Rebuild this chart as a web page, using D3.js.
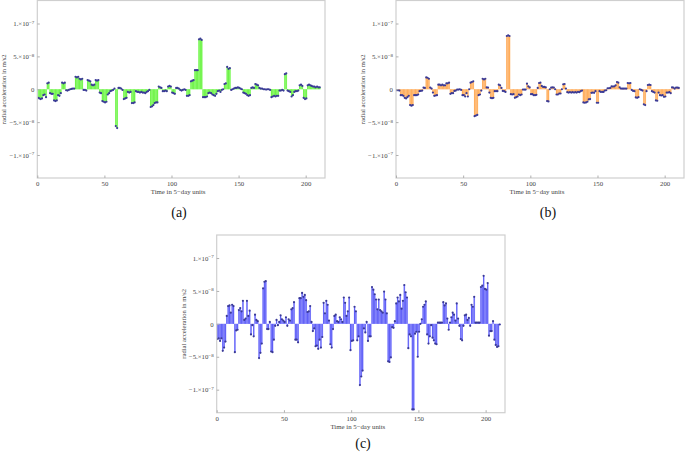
<!DOCTYPE html>
<html><head><meta charset="utf-8">
<script src="https://cdn.jsdelivr.net/npm/d3@7"></script>
<style>body{margin:0;background:#fff}svg{display:block}</style>
</head><body>
<svg id="chart" width="685" height="455"></svg>
<script>
// values in units of 1e-8 m/s^2
const xTicks = [0, 50, 100, 150, 200];
const yTicks = [-10, -5, 0, 5, 10];
const yTickLabels = [["\u22121.\u00d710", "\u22127"], ["\u22125.\u00d710", "\u22128"], ["0", ""], ["5.\u00d710", "\u22128"], ["1.\u00d710", "\u22127"]];
const xLabel = "Time in 5\u2212day units";
const yLabel = "radial acceleration in m/s2";
const panelLabels = ["(a)", "(b)", "(c)"];

const seriesA = [
-1.3,-1.4,-1.5,-1.4,-0.9,-0.8,-1.2,0.9,1.0,-0.6,
-0.7,-0.7,-1.7,-1.8,-1.7,-0.9,-1.0,-0.6,1.0,0.9,
1.0,-0.15,-0.2,-0.1,0.0,0.05,0.1,0.1,1.9,1.8,
1.9,1.6,1.5,1.6,-0.1,-0.1,-0.2,1.4,1.3,1.2,
0.7,0.6,0.7,1.4,1.3,1.4,-0.5,-0.6,-1.8,-1.9,
-2.0,-1.9,-0.8,-0.6,-0.3,-0.2,-0.1,0.1,-5.6,-5.9,
0.2,0.2,0.1,-0.1,-1.5,-1.4,-1.3,-0.4,-0.5,-0.4,
-2.1,-2.1,-2.0,-0.3,-0.4,-0.4,-0.5,-0.4,-0.5,-0.5,
-0.6,-0.4,-0.3,-0.1,-2.7,-2.6,-2.4,-2.1,-2.0,-2.0,
0.4,0.3,0.2,-0.3,-0.3,-0.2,-0.3,0.4,0.5,0.4,
-0.5,-0.6,-0.7,0.2,0.2,0.1,-0.1,-0.2,-0.1,0.0,
-0.1,-1.0,-1.0,-0.9,1.2,1.3,1.4,2.9,2.9,2.9,
7.6,7.7,7.5,-1.2,-1.2,-1.2,-1.1,-0.6,-0.5,-0.6,
-0.8,-0.9,-1.0,-0.7,-0.3,-0.2,-0.4,-0.1,0.0,0.8,
0.9,3.4,3.1,3.2,-0.1,0.0,0.1,0.2,0.2,0.3,
0.2,0.1,0.0,-0.5,-0.6,-0.7,-0.9,-1.0,-0.9,0.2,
0.3,0.2,0.8,0.7,0.6,0.2,0.1,0.1,0.0,0.0,
-0.05,0.0,0.0,-0.1,-1.2,-1.1,-1.0,-1.1,-1.0,-1.0,
-0.2,-0.2,-0.1,-0.2,2.3,2.4,-0.2,-0.3,-0.4,-1.1,
-0.9,-0.4,-0.3,-0.3,-0.2,0.6,0.7,0.5,-1.3,-1.5,
-1.4,0.6,0.7,0.6,0.5,0.4,0.4,0.3,0.4,0.3,
0.3];

const seriesB = [
-0.15,-0.15,-0.2,-0.9,-0.9,-1.0,-1.3,-1.4,-1.2,-1.0,
-2.4,-2.5,-2.4,-0.9,-0.9,-0.9,-0.8,-0.3,-0.25,-0.2,
0.25,0.2,1.8,1.75,1.6,0.25,0.1,-0.5,-1.0,-0.95,
-0.9,0.7,0.7,0.6,0.7,0.6,0.6,0.9,0.9,1.0,
-0.7,-0.6,-0.6,-0.25,-0.2,-0.05,-0.05,0.0,-0.1,-0.9,
-0.9,-1.1,-0.6,-1.1,0.0,1.0,1.1,1.2,-4.1,-4.0,
-3.9,-0.9,-0.8,-0.2,1.6,1.5,1.6,0.3,0.25,-0.5,
-1.3,-1.35,-1.3,-0.3,-0.3,-0.3,0.7,0.6,0.2,-0.25,
-0.3,-0.4,8.1,8.2,8.1,-0.75,-0.8,-0.75,-1.3,-1.2,
-1.1,-0.8,-0.9,-0.8,-0.05,-0.05,-0.05,0.85,0.45,0.3,
-0.75,-0.75,-0.9,-0.9,-0.85,0.2,0.95,1.0,0.5,0.35,
0.35,0.3,-1.8,-1.85,0.0,0.25,0.3,0.25,0.0,-0.8,
-0.8,-0.65,-0.65,0.0,0.75,0.8,0.1,-0.45,-0.5,-0.45,
-0.5,-0.45,-0.5,-0.45,-0.5,-0.4,-0.45,-0.3,-0.2,-2.0,
-2.05,-2.0,-1.9,-1.55,-1.5,-0.55,-0.5,-0.55,-0.3,-2.05,
-2.05,-0.3,-0.4,-0.4,-0.4,-0.2,-0.15,0.15,0.15,0.2,
0.45,0.4,0.45,0.6,1.1,1.0,0.3,0.1,0.1,0.1,
0.1,0.1,0.95,0.9,0.95,-0.1,-0.25,-0.3,-1.25,-1.3,
-1.2,0.0,-0.1,-0.2,-2.3,-2.4,-0.3,0.65,0.7,0.65,
-0.3,-0.4,-0.5,-1.7,-1.75,-0.5,-0.9,-0.95,-0.9,-1.15,
-1.1,-0.5,-0.5,-0.45,-0.6,0.3,0.25,0.1,0.25,0.25,
0.2];

const seriesC = [
-2.3,-2.2,-2.6,-2.2,-4.1,-3.6,-2.7,1.2,2.7,2.8,
1.7,2.9,2.7,-4.3,-1.0,-0.9,2.1,2.4,1.9,3.5,
0.6,0.8,3.5,1.2,2.0,-1.6,-0.2,-1.9,1.4,0.6,
0.4,-5.2,-4.4,-3.0,5.4,6.4,6.5,-0.8,-0.8,0.3,
-4.2,-4.3,-2.4,-0.3,0.6,-0.2,0.3,1.3,0.7,0.5,
0.3,1.0,-0.3,0.7,0.5,2.2,2.4,3.3,-2.4,-2.4,
-2.8,3.9,3.9,4.7,4.1,4.4,3.6,1.8,1.9,2.7,
0.3,-1.1,-0.7,-3.4,-3.3,-3.8,-2.4,-3.6,-2.0,3.2,
1.6,3.5,2.9,0.5,-3.1,-3.6,-0.8,1.2,1.4,0.4,
0.3,1.0,0.7,0.3,4.0,3.2,1.2,1.9,4.0,-4.0,
-2.6,-2.5,2.6,1.9,-2.5,-1.9,-9.3,-8.0,-7.1,-0.7,
-1.3,0.3,-2.6,-1.9,-1.9,5.6,5.2,4.5,3.7,2.2,
3.7,2.1,1.9,1.7,4.9,3.7,1.6,-5.7,-5.8,-5.1,
-0.5,-0.6,0.4,3.1,4.0,3.4,4.4,2.3,3.5,5.9,
4.8,4.0,-3.7,-1.6,-1.9,-13.0,-13.0,-1.5,-1.2,-5.0,
-1.2,0.0,0.7,2.6,2.9,3.4,-1.6,-3.0,-1.9,-0.2,
-2.1,-2.5,-3.0,-3.1,0.2,0.2,0.2,0.2,3.3,2.8,
3.1,0.8,-0.9,0.2,1.0,1.7,1.4,0.5,3.1,0.8,
-0.3,-2.3,-2.5,-0.3,1.3,1.4,0.6,0.9,-0.3,2.9,
2.6,4.1,0.2,0.2,0.2,0.2,5.6,5.8,7.3,5.3,
5.2,6.2,-1.8,-1.1,-1.1,0.4,-2.4,-3.2,-3.5,-3.4,
-0.1];

const panels = [
  {data: seriesA, l: 37.3, r: 325, t: 0.5, b: 178, fill: "#a2ff86", stem: "#66f040", label: panelLabels[0], lx: 179, ly: 217},
  {data: seriesB, l: 396, r: 684, t: 0.5, b: 178, fill: "#ffcc98", stem: "#ffa852", label: panelLabels[1], lx: 548, ly: 217},
  {data: seriesC, l: 216.7, r: 505, t: 235, b: 412.7, fill: "#a4a4ff", stem: "#5656f5", label: panelLabels[2], lx: 363, ly: 448}
];

const svg = d3.select("#chart");
const font = "'Liberation Serif','Times New Roman',serif";

panels.forEach((p, k) => {
  const g = svg.append("g");
  const x = d3.scaleLinear().domain([0, 214.4]).range([p.l, p.r]);
  const y = d3.scaleLinear().domain([-13.5, 13.5]).range([p.b, p.t]);
  const u = x(1) - x(0);

  const clipId = "clip" + k;
  svg.append("clipPath").attr("id", clipId).append("rect")
    .attr("x", p.l).attr("y", p.t).attr("width", p.r - p.l).attr("height", p.b - p.t);
  const plot = g.append("g").attr("clip-path", `url(#${clipId})`);

  plot.selectAll("rect.bar").data(p.data).join("rect").attr("class", "bar")
    .attr("x", (d, i) => x(i))
    .attr("width", u + 0.2)
    .attr("y", d => Math.min(y(d), y(0)))
    .attr("height", d => Math.abs(y(d) - y(0)))
    .attr("fill", p.fill);

  plot.selectAll("line.stem").data(p.data).join("line").attr("class", "stem")
    .attr("x1", (d, i) => x(i) + u / 2).attr("x2", (d, i) => x(i) + u / 2)
    .attr("y1", y(0)).attr("y2", d => y(d))
    .attr("stroke", p.stem).attr("stroke-width", 0.9);

  plot.selectAll("circle.pt").data(p.data).join("circle").attr("class", "pt")
    .attr("cx", (d, i) => x(i) + u / 2)
    .attr("cy", d => y(d))
    .attr("r", 1.1)
    .attr("fill", "#3a3a96");

  g.append("rect").attr("x", p.l).attr("y", p.t).attr("width", p.r - p.l).attr("height", p.b - p.t)
    .attr("fill", "none").attr("stroke", "#cfcfcf").attr("stroke-width", 1.2);

  const xa = g.append("g").attr("transform", `translate(0,${p.b})`)
    .call(d3.axisBottom(x).tickValues(xTicks).tickSize(-2.5).tickPadding(3.5).tickFormat(d3.format("d")));
  xa.select(".domain").remove();
  xa.selectAll("line").attr("stroke", "#b0b0b0");
  xa.selectAll("text").attr("font-family", font).attr("font-size", 6.8).attr("fill", "#444");

  const ya = g.append("g").attr("transform", `translate(${p.l},0)`)
    .call(d3.axisLeft(y).tickValues(yTicks).tickSize(-2.5).tickPadding(3).tickFormat(""));
  ya.select(".domain").remove();
  ya.selectAll("line").attr("stroke", "#b0b0b0");
  ya.selectAll(".tick text").each(function(d) {
    const lab = yTickLabels[yTicks.indexOf(d)];
    const t = d3.select(this).attr("font-family", font).attr("font-size", 6.8).attr("fill", "#444");
    t.text(null);
    t.append("tspan").text(lab[0]);
    if (lab[1]) t.append("tspan").attr("dy", "-0.45em").attr("font-size", 5).text(lab[1]);
  });

  g.append("text").attr("x", (p.l + p.r) / 2 - 3).attr("y", p.b + 16)
    .attr("text-anchor", "middle").attr("font-family", font).attr("font-size", 6.8).attr("fill", "#444")
    .text(xLabel);

  const yl = p.l - 31;
  g.append("text").attr("transform", `translate(${yl},${(p.t + p.b) / 2}) rotate(-90)`)
    .attr("text-anchor", "middle").attr("font-family", font).attr("font-size", 6.6).attr("fill", "#444")
    .text(yLabel);

  g.append("text").attr("x", p.lx).attr("y", p.ly).attr("text-anchor", "middle")
    .attr("font-family", font).attr("font-size", 14).attr("fill", "#111").text(p.label);
});
</script>
</body></html>
